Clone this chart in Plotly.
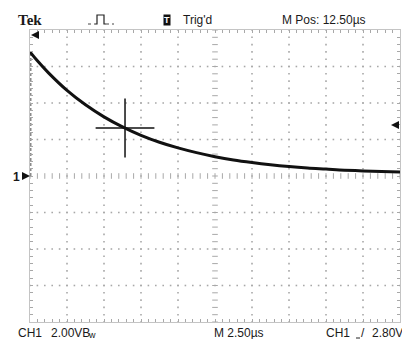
import numpy as np
import plotly.graph_objects as go

# ---- data (time in us, voltage in V) ----
time_us = [0, 0.5, 1.25, 2.5, 3.75, 5.0, 6.25, 7.5, 8.75, 10.0, 11.25, 12.5,
           13.75, 15.0, 16.25, 17.5, 18.75, 20.0, 21.25, 22.5, 23.75, 25.0]
volts = [6.8, 6.31, 5.65, 4.69, 3.90, 3.24, 2.69, 2.23, 1.85, 1.54, 1.28, 1.06,
         0.88, 0.74, 0.62, 0.52, 0.44, 0.38, 0.32, 0.28, 0.25, 0.22]
edge_t = [0, 0]
edge_v = [0, 6.8]
cursor_t = [6.42]
cursor_v = [2.63]
trigger_level = 2.80
ground_level = 0.0

# screen scales
x_div = 2.5   # us/div
y_div = 2.0   # V/div
n_xdiv = 10
n_ydiv = 8
x_max = x_div * n_xdiv
y_half = y_div * n_ydiv / 2

FONT = "Liberation Sans Narrow, Arial Narrow, Liberation Sans, Arial, sans-serif"
GRID = "#a8a8a8"

fig = go.Figure()

# dotted graticule
gx, gy = [], []
for k in range(1, n_xdiv):
    if k == n_xdiv // 2:
        continue
    ys = np.arange(-y_half, y_half + 1e-9, y_div / 5)
    gx += [k * x_div] * len(ys)
    gy += list(ys)
for k in range(-n_ydiv // 2 + 1, n_ydiv // 2):
    if k == 0:
        continue
    xs = np.arange(0, x_max + 1e-9, x_div / 5)
    gx += list(xs)
    gy += [k * y_div] * len(xs)
fig.add_trace(go.Scatter(x=gx, y=gy, mode="markers", hoverinfo="skip",
                         marker=dict(symbol="square", size=1.6, color=GRID)))

# center lines with small tick dashes
cx = np.arange(0, x_max + 1e-9, x_div / 5)
fig.add_trace(go.Scatter(x=cx, y=[0] * len(cx), mode="markers", hoverinfo="skip",
                         marker=dict(symbol="line-ns", size=4,
                                     line=dict(width=1, color=GRID))))
cy = np.arange(-y_half, y_half + 1e-9, y_div / 5)
fig.add_trace(go.Scatter(x=[x_max / 2] * len(cy), y=cy, mode="markers", hoverinfo="skip",
                         marker=dict(symbol="line-ew", size=4,
                                     line=dict(width=1, color=GRID))))

# rising edge (dim)
fig.add_trace(go.Scatter(x=edge_t, y=edge_v, mode="lines", cliponaxis=False,
                         line=dict(color="#8a8a8a", width=3, dash="3px,2px"),
                         hoverinfo="skip"))
# waveform
fig.add_trace(go.Scatter(x=time_us, y=volts, mode="lines", cliponaxis=False,
                         line=dict(color="#111111", width=3, shape="spline"),
                         hoverinfo="skip"))
# cursor cross
fig.add_trace(go.Scatter(x=cursor_t, y=cursor_v, mode="markers",
                         marker=dict(symbol="cross-thin", size=42,
                                     line=dict(width=1.5, color="#111111")),
                         hoverinfo="skip"))

axis_common = dict(showgrid=False, zeroline=False, showticklabels=False,
                   ticks="inside", ticklen=3, tickcolor=GRID, tickwidth=1,
                   showline=True, linecolor="#c4c4c4", linewidth=1, mirror="ticks")
fig.update_xaxes(range=[0, x_max], dtick=x_div / 5, tick0=0, **axis_common)
fig.update_yaxes(range=[-y_half, y_half], dtick=y_div / 5, tick0=0, **axis_common)

# page pixel -> paper coords (plot area spans page x 30..400, y 30..322)
def px2x(px):
    return (px - 30) / 370

def py2y(py):
    return (322 - py) / 292

ann = []
def txt(text, px, py, size=12, anchor="left", font=FONT, color="#1a1a1a", **kw):
    ann.append(dict(text=text, x=px2x(px), y=py2y(py), xref="paper", yref="paper",
                    xanchor=anchor, yanchor="middle", showarrow=False,
                    font=dict(family=font, size=size, color=color), **kw))

txt("<b>Tek</b>", 16, 20, size=15, font="Liberation Serif, DejaVu Serif, serif")
txt("<b>T</b>", 167, 20, size=9, anchor="center", color="white",
    bgcolor="#111111", borderpad=0)
txt("Trig'd", 181, 20, size=12)
txt("M Pos: 12.50\u00b5s", 280, 20, size=12)
txt("CH1", 16, 333, size=12)
txt("2.00VB", 49, 333, size=12)
txt("w", 86, 335, size=9)
txt("M 2.50\u00b5s", 212, 333, size=12)
txt("CH1", 324, 333, size=12)
txt("/", 359, 333, size=12)
txt("2.80V", 370, 333, size=12)
txt("<b>1</b>", 22, 177, size=12, anchor="right")

# level / position markers drawn as filled arrowheads
def arrow(x_px, yval, yref, dx):
    ann.append(dict(text="", x=px2x(x_px), y=yval, xref="paper", yref=yref,
                    showarrow=True, arrowhead=2, arrowsize=0.8, arrowwidth=2,
                    arrowcolor="#111", ax=dx, ay=0, standoff=0))

arrow(30, ground_level, "y", -7)          # ground marker (points right)
arrow(391, trigger_level, "y", 9)         # trigger level (points left)
arrow(31, py2y(35), "paper", 9)           # trigger position (points left)

shapes = [
    dict(type="path", xref="paper", yref="paper",
         path=f"M {px2x(95)},{py2y(24)} L {px2x(97)},{py2y(24)} L {px2x(97)},{py2y(15)} "
              f"L {px2x(104)},{py2y(15)} L {px2x(104)},{py2y(24)} L {px2x(106)},{py2y(24)}",
         line=dict(color="#222", width=1.2)),
    dict(type="line", xref="paper", yref="paper", x0=px2x(88), x1=px2x(95),
         y0=py2y(24), y1=py2y(24), line=dict(color="#444", width=1, dash="dot")),
    dict(type="line", xref="paper", yref="paper", x0=px2x(106), x1=px2x(114),
         y0=py2y(24), y1=py2y(24), line=dict(color="#444", width=1, dash="dot")),
    # small foot of the rising-slope symbol
    dict(type="line", xref="paper", yref="paper", x0=px2x(356), x1=px2x(360),
         y0=py2y(338), y1=py2y(338), line=dict(color="#222", width=1)),
]

# the page has an 8px body margin, so the figure is sized to fit the window
fig.update_layout(width=402, height=331, margin=dict(l=22, r=10, t=22, b=17),
                  paper_bgcolor="white", plot_bgcolor="white", showlegend=False,
                  annotations=ann, shapes=shapes)

fig.write_html("out.html")
